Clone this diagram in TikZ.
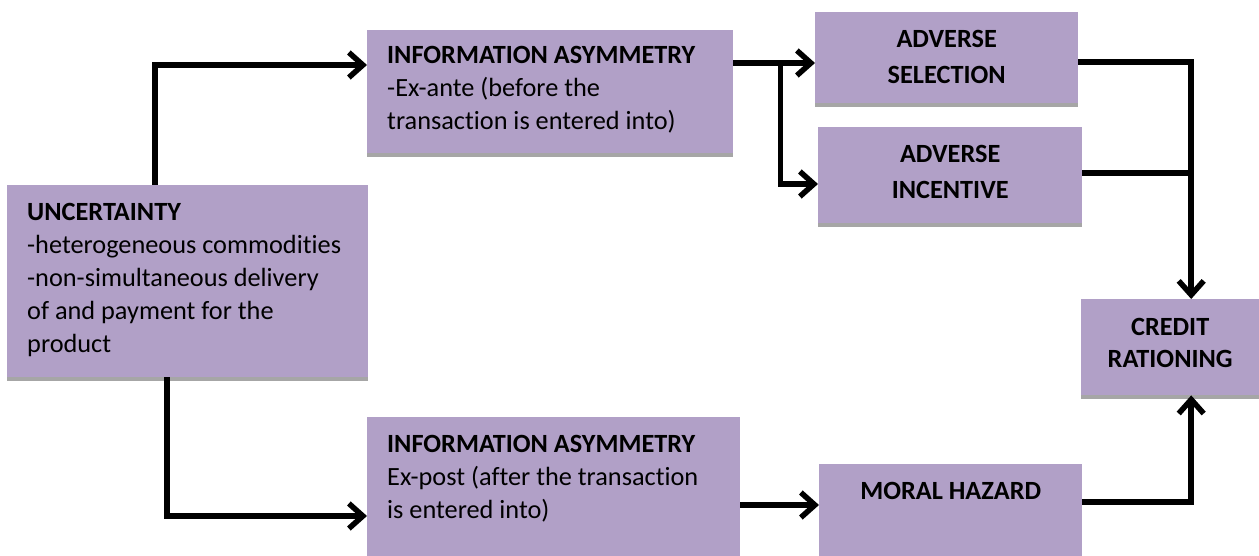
\documentclass[tikz,border=0pt]{standalone}
\usepackage{fontspec}
\setmainfont{Carlito}[Ligatures=NoCommon]
\usepackage{tikz}
\usetikzlibrary{arrows.meta,shadows}
\definecolor{boxfill}{HTML}{B1A0C7}
\definecolor{boxshade}{HTML}{A6A6A6}

\begin{document}
\begin{tikzpicture}[x=1pt,y=-1pt,
		box/.style={fill=boxfill,anchor=north west,inner xsep=20pt,inner ysep=12pt,
			font=\fontsize{26.3pt}{33pt}\selectfont,
			drop shadow={shadow xshift=0pt,shadow yshift=-4pt,fill=boxshade,opacity=1}},
		flow/.style={line width=5.5pt,-{Straight Barb[length=14pt,width=25pt]}},
		link/.style={line width=5.5pt}]
		\useasboundingbox (0,0) rectangle (1259,556);
		% boxes
		\node[box] (unc) at (7,185) {\parbox[c][168pt][t]{321pt}{\raggedright\strut\textbf{UNCERTAINTY}\\-heterogeneous commodities\\-non-simultaneous delivery\\of and payment for the\\product}};
		\node[box,inner ysep=10pt] (iaa) at (367,30) {\parbox[c][103pt][t]{326pt}{\raggedright\strut\textbf{INFORMATION ASYMMETRY}\\-Ex-ante (before the\\transaction is entered into)}};
		\node[box] (iap) at (367,417) {\parbox[c][118pt][t]{333pt}{\raggedright\strut\textbf{INFORMATION ASYMMETRY}\\Ex-post (after the transaction\\is entered into)}};
		\node[box,inner ysep=10pt,font=\fontsize{26.3pt}{36pt}\selectfont] (sel) at (815,12) {\parbox[c][71pt][t]{223pt}{\centering\strut\textbf{ADVERSE}\\\textbf{SELECTION}}};
		\node[box,inner ysep=10pt,font=\fontsize{26.3pt}{36pt}\selectfont] (inc) at (818,127) {\parbox[c][76pt][t]{224pt}{\centering\strut\textbf{ADVERSE}\\\textbf{INCENTIVE}}};
		\node[box,inner ysep=14pt,font=\fontsize{26.3pt}{32pt}\selectfont] (cr) at (1081,299) {\parbox[c][68pt][t]{138pt}{\centering\strut\textbf{CREDIT}\\\textbf{RATIONING}}};
		\node[box] (mh) at (819,464) {\parbox[c][71pt][t]{223pt}{\centering\strut\textbf{MORAL HAZARD}}};
		% helper points
		\coordinate (fork) at ([xshift=47pt,yshift=-33pt]iaa.north east);
		\coordinate (merge) at ([xshift=21pt]cr.north);
		\coordinate (incout) at ([yshift=-46pt]inc.north east);
		\coordinate (mhin) at ([yshift=-41pt]mh.north west);
		% connectors
		\draw[flow] ([xshift=148pt]unc.north west) |- ([yshift=-35pt]iaa.north west);
		\draw[flow] (iaa.east |- fork) -- (sel.west |- fork);
		\draw[flow] (fork) |- ([yshift=-57pt]inc.north west);
		\draw[flow] ([yshift=-50pt]sel.north east) -| (merge);
		\draw[link] (incout) -- (incout -| merge);
		\draw[flow] ([xshift=160pt]unc.south west) |- ([yshift=-99pt]iap.north west);
		\draw[flow] (iap.east |- mhin) -- (mhin);
		\draw[flow] ([yshift=-38pt]mh.north east) -| ([xshift=21pt]cr.south);
	\end{tikzpicture}
\end{document}
